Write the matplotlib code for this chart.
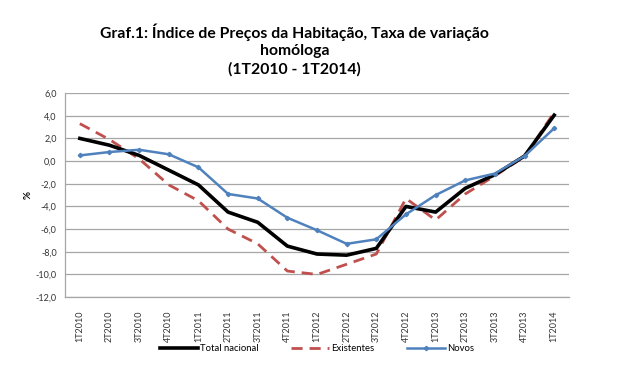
import matplotlib
matplotlib.use('Agg')
import matplotlib.pyplot as plt
from matplotlib.ticker import FuncFormatter

# Data
quarters = ['1T2010', '2T2010', '3T2010', '4T2010',
            '1T2011', '2T2011', '3T2011', '4T2011',
            '1T2012', '2T2012', '3T2012', '4T2012',
            '1T2013', '2T2013', '3T2013', '4T2013', '1T2014']
total_nacional = [2.0, 1.4, 0.5, -0.8, -2.1, -4.5, -5.4, -7.5, -8.2,
                  -8.3, -7.7, -4.0, -4.5, -2.4, -1.2, 0.45, 4.05]
existentes = [3.3, 1.9, 0.2, -2.1, -3.5, -6.0, -7.3, -9.7, -10.0,
              -9.1, -8.2, -3.3, -5.2, -2.9, -1.3, 0.4, 4.3]
novos = [0.5, 0.8, 1.0, 0.6, -0.55, -2.9, -3.3, -5.0, -6.1,
         -7.3, -6.9, -4.7, -3.0, -1.7, -1.1, 0.45, 2.9]

plt.rcParams['font.family'] = ['Lato', 'DejaVu Sans']

fig = plt.figure(figsize=(6.4, 3.65), dpi=100)
ax = fig.add_axes([0.1016, 0.186, 0.7875, 0.559])

x = range(len(quarters))
ax.plot(x, total_nacional, color='black', lw=2.6, label='Total nacional', zorder=3)
ax.plot(x, existentes, color='#c0504d', lw=2.0, ls=(0, (4, 2.5)), label='Existentes', zorder=2)
ax.plot(x, novos, color='#4f81bd', lw=1.8, marker='D', ms=2.2, label='Novos', zorder=4)

ax.set_xlim(-0.5, len(quarters) - 0.5)
ax.set_ylim(-12, 6)
ax.set_yticks(range(-12, 7, 2))
ax.yaxis.set_major_formatter(FuncFormatter(lambda v, p: '{0:.1f}'.format(v).replace('.', ',')))
ax.set_xticks(list(x))
ax.set_xticklabels(quarters, rotation=90)
ax.tick_params(axis='both', labelsize=6.5, colors='#333333', length=0, pad=6)
ax.tick_params(axis='x', pad=10)

ax.grid(axis='y', color='#a6a6a6', lw=0.9)
ax.set_axisbelow(True)
for s in ['top', 'right']:
    ax.spines[s].set_visible(False)
for s in ['left', 'bottom']:
    ax.spines[s].set_color('#a6a6a6')
    ax.spines[s].set_linewidth(0.9)

ax.set_ylabel('%', fontsize=7, fontweight='bold', labelpad=2)

fig.text(0.46, 0.863, 'Graf.1: Índice de Preços da Habitação, Taxa de variação\nhomóloga\n(1T2010 - 1T2014)',
         ha='center', va='center', fontsize=11.3, fontweight='bold', linespacing=1.35)

ax.legend(loc='upper center', bbox_to_anchor=(0.5, -0.19), ncol=3, frameon=False,
          fontsize=6.8, handlelength=4, columnspacing=3.5, handletextpad=0.2)

fig.savefig('out.png', dpi=100)
